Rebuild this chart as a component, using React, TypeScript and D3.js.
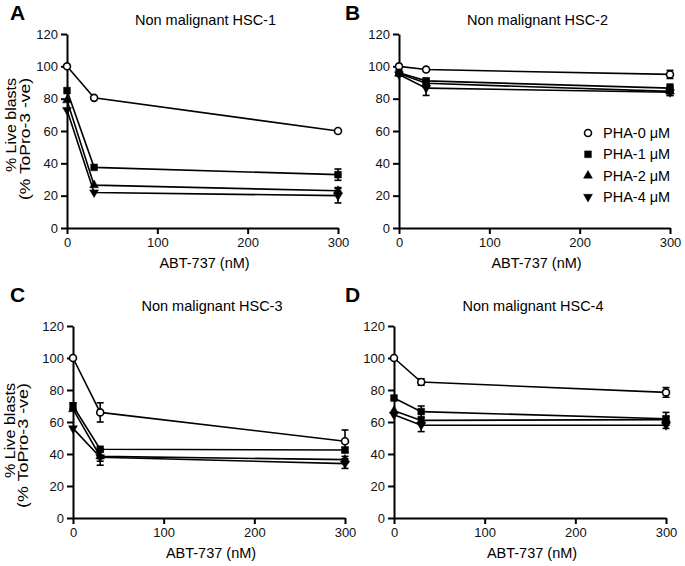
import * as d3 from "d3";
import { useEffect, useRef } from "react";

// ABT-737 doses (nM) and series
const doses = [0, 30, 300];
const seriesNames = ["PHA-0 \u03bcM", "PHA-1 \u03bcM", "PHA-2 \u03bcM", "PHA-4 \u03bcM"];
const yTicks = [0, 20, 40, 60, 80, 100, 120];
const xTicks = [0, 100, 200, 300];

// means / SEM per panel, rows = PHA-0, PHA-1, PHA-2, PHA-4
const hsc1Means = [[100, 80.5, 60], [85, 37.5, 33], [79, 26.5, 23], [73, 22, 20]];
const hsc1Errors = [[0.8, 1, 1], [1, 1, 3.5], [1, 1, 2], [1, 1, 4.5]];
const hsc2Means = [[100, 98, 95], [96, 91, 86.5], [95.5, 89.5, 84.5], [95, 86.5, 84]];
const hsc2Errors = [[1, 1, 2.5], [1, 1.5, 2.5], [1, 2, 2.5], [1, 4.5, 2]];
const hsc3Means = [[100, 66, 48], [70, 43, 42.5], [68, 38.5, 36.5], [56, 38, 34]];
const hsc3Errors = [[1, 6, 7], [2, 1, 1.5], [1, 3, 2], [1, 5, 3]];
const hsc4Means = [[100, 85, 78.5], [75, 66.5, 62], [67, 61, 61.5], [64.5, 58, 58]];
const hsc4Errors = [[1, 2, 3], [1, 3.5, 4], [1, 2, 2], [1, 4, 2]];

const FONT = "'Liberation Sans', Arial, sans-serif";

const panels = [
  { letter: "A", title: "Non malignant HSC-1", means: hsc1Means, errors: hsc1Errors,
    x0: 67, x1: 338, yb: 228, yt: 34, lx: 10, ly: 20, ty: 25, labelTop: 78, legend: false },
  { letter: "B", title: "Non malignant HSC-2", means: hsc2Means, errors: hsc2Errors,
    x0: 399, x1: 670, yb: 228, yt: 34, lx: 345, ly: 20, ty: 25, labelTop: 0, legend: true },
  { letter: "C", title: "Non malignant HSC-3", means: hsc3Means, errors: hsc3Errors,
    x0: 73, x1: 345, yb: 518, yt: 326, lx: 10, ly: 302, ty: 311, labelTop: 383, legend: false },
  { letter: "D", title: "Non malignant HSC-4", means: hsc4Means, errors: hsc4Errors,
    x0: 394, x1: 666, yb: 518, yt: 326, lx: 345, ly: 302, ty: 311, labelTop: 0, legend: false },
];

const symbolFor = (i: number) => {
  if (i === 0) return d3.symbol(d3.symbolCircle, 38)();
  if (i === 1) return d3.symbol(d3.symbolSquare, 46)();
  return d3.symbol(d3.symbolTriangle, 34)();
};

const App = () => {
  const svgRef = useRef<SVGSVGElement>(null);

  useEffect(() => {
    const svg = d3.select(svgRef.current);
    svg.selectAll("*").remove();
    svg.attr("font-family", FONT);

    panels.forEach((p) => {
      const x = d3.scaleLinear().domain([0, 300]).range([p.x0, p.x1]);
      const y = d3.scaleLinear().domain([0, 120]).range([p.yb, p.yt]);
      const g = svg.append("g");

      // panel letter and title
      g.append("text").attr("x", p.lx).attr("y", p.ly).attr("font-size", 21)
        .attr("font-weight", "bold").text(p.letter);
      g.append("text").attr("x", (p.x0 + p.x1) / 2 + 3).attr("y", p.ty)
        .attr("text-anchor", "middle").attr("font-size", 14.5).text(p.title);

      // axes
      g.append("g").attr("transform", `translate(0,${p.yb})`)
        .call(d3.axisBottom(x).tickValues(xTicks).tickSize(6).tickSizeOuter(0).tickPadding(4))
        .call((a) => a.select(".domain").attr("stroke-width", 2))
        .call((a) => a.selectAll("line").attr("stroke-width", 2))
        .call((a) => a.selectAll("text").attr("font-size", 13).attr("font-family", FONT).attr("fill", "#111"));
      g.append("g").attr("transform", `translate(${p.x0},0)`)
        .call(d3.axisLeft(y).tickValues(yTicks).tickSize(6).tickSizeOuter(0).tickPadding(3))
        .call((a) => a.select(".domain").attr("stroke-width", 2))
        .call((a) => a.selectAll("line").attr("stroke-width", 2))
        .call((a) => a.selectAll("text").attr("font-size", 13).attr("font-family", FONT).attr("fill", "#111"));

      // axis labels
      g.append("text").attr("x", (p.x0 + p.x1) / 2 + 2).attr("y", p.yb + 40)
        .attr("text-anchor", "middle").attr("font-size", 14.5).text("ABT-737 (nM)");
      if (p.labelTop) {
        const c = p.yb > 300;
        g.append("text").attr("transform", `translate(${c ? 15 : 16},${p.labelTop}) rotate(-90)`)
          .attr("text-anchor", "end").attr("font-size", 14)
          .attr("textLength", c ? 95 : 94).attr("lengthAdjust", "spacingAndGlyphs")
          .text("% Live blasts");
        g.append("text").attr("transform", `translate(${c ? 28 : 30},${p.labelTop}) rotate(-90)`)
          .attr("text-anchor", "end").attr("font-size", 14)
          .attr("textLength", c ? 125 : 122).attr("lengthAdjust", "spacingAndGlyphs")
          .text("(% ToPro-3 -ve)");
      }

      const line = d3.line<number>().x((_, i) => x(doses[i])).y((v) => y(v));

      // lines
      p.means.forEach((m) => {
        g.append("path").datum(m).attr("d", line).attr("fill", "none")
          .attr("stroke", "#000").attr("stroke-width", 1.6);
      });

      // error bars
      p.means.forEach((m, s) => {
        m.forEach((v, i) => {
          const e = p.errors[s][i];
          if (e < 1.5) return;
          const cx = x(doses[i]);
          const eb = g.append("g").attr("stroke", "#000").attr("stroke-width", 1.6);
          eb.append("line").attr("x1", cx).attr("x2", cx).attr("y1", y(v - e)).attr("y2", y(v + e));
          [v - e, v + e].forEach((t) => {
            eb.append("line").attr("x1", cx - 3.5).attr("x2", cx + 3.5).attr("y1", y(t)).attr("y2", y(t));
          });
        });
      });

      // markers
      p.means.forEach((m, s) => {
        g.selectAll(null).data(m).join("path")
          .attr("d", symbolFor(s))
          .attr("transform", (v, i) => `translate(${x(doses[i])},${y(v)})${s === 3 ? " rotate(180)" : ""}`)
          .attr("fill", s === 0 ? "#fff" : "#000")
          .attr("stroke", "#000").attr("stroke-width", s === 0 ? 1.6 : 0.5);
      });

      // legend
      if (p.legend) {
        seriesNames.forEach((name, s) => {
          const ly = 133 + s * 21.3;
          g.append("path").attr("d", symbolFor(s))
            .attr("transform", `translate(588,${ly})${s === 3 ? " rotate(180)" : ""}`)
            .attr("fill", s === 0 ? "#fff" : "#000").attr("stroke", "#000")
            .attr("stroke-width", s === 0 ? 1.6 : 0.5);
          g.append("text").attr("x", 603).attr("y", ly + 5).attr("font-size", 14.5).text(name);
        });
      }
    });
  }, []);

  return (
    <svg ref={svgRef} width={685} height={566}
      style={{ position: "absolute", left: 0, top: 0, background: "#fff" }} />
  );
};

export default App;
